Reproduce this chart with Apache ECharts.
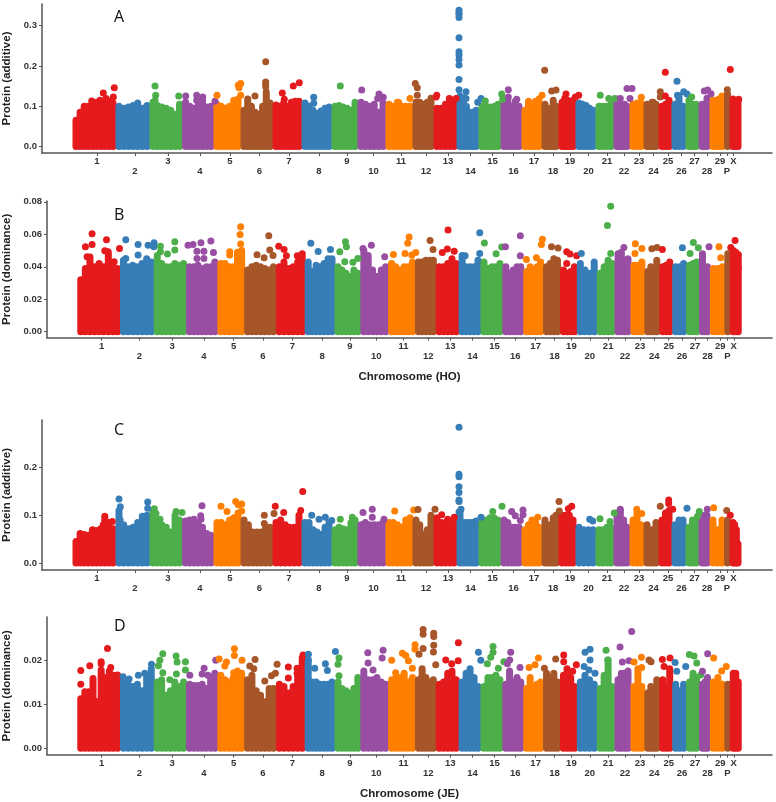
<!DOCTYPE html>
<html><head><meta charset="utf-8">
<style>html,body{margin:0;padding:0;background:#fff}#c{width:776px;height:802px}</style>
<script src="https://cdn.jsdelivr.net/npm/echarts@6/dist/echarts.min.js"></script>
</head><body><div id="c"></div>
<script>
const chromNames = ['1','2','3','4','5','6','7','8','9','10','11','12','13','14','15','16','17','18','19','20','21','22','23','24','25','26','27','28','29','P','X'];
const chromLengths = [43,34,32.5,31.5,27,32,29,30,26,28,27,21,23,22,22,21,20,17,17,20,18,16,14,15,13,14,13,11,15,5,11];
const tickPositions = [24,62,95,127,157,186.5,216,246,274,300.5,328,353,375,397.5,419.5,440.5,461,480,497,515.5,534,551,566,580.5,595,608.5,621.5,634,647,654,660.5];
const palette = ['#E41A1C','#377EB8','#4DAF4A','#984EA3','#FF7F00','#A65628'];

const ridgeA = [
[.065,.085,.10,.10,.105,.11,.1,.11,.112,.108],[.1,.095,.098,.102,.108,.095,.102],[.11,.102,.098,.095,.09,.08,.105],[.11,.1,.095,.105,.108,.098,.1],[.105,.1,.095,.1,.115,.118],[.09,.118,.1,.085,.08,.1,.135,.108],[.103,.1,.108,.1,.11,.112,.112],[.108,.1,.09,.082,.088,.095,.098],[.1,.102,.098,.095,.09,.11],[.11,.105,.1,.105,.085,.108],
[.105,.1,.11,.1,.1,.1],[.11,.11,.105,.11,.12],[.095,.095,.105,.118,.11],[.125,.12,.1,.085,.085,.09],[.1,.098,.098,.098,.1,.105],[.11,.118,.1,.112,.1],[.09,.112,.1,.112,.118],[.105,.095,.088,.115,.1],[.11,.12,.115,.1,.115],[.108,.105,.102,.095,.09],
[.1,.1,.1,.105],[.118,.105,.09,.105,.1],[.105,.108,.108],[.105,.105,.11,.105],[.1,.105,.115],[.105,.125,.1],[.115,.105,.105],[.105,.105,.12],[.115,.115,.118,.125],[.13],[.118,.115,.115]];
const outliersA = [
[1,30.3,.133],[1,41.3,.146],[1,40.3,.123],[1,33,.119],[1,27,.115],[1,18.7,.113],[3,82,.15],[3,82.7,.127],[3,105.7,.125],[3,82,.115],[4,112.7,.125],[4,123.7,.127],[4,129.7,.123],[4,123.7,.115],[4,129.5,.115],[4,142,.112],[5,144,.127],[5,167.7,.156],[5,165.3,.152],[5,166,.146],[5,167.7,.127],[6,182,.125],[6,192.7,.21],[6,192.7,.16],[6,192.7,.155],[6,192.7,.148],[7,209.3,.133],[7,220.3,.15],[7,226.3,.158],[7,211.3,.117],[8,240.7,.122],[8,240.7,.107],[9,267.3,.15],[10,288.7,.14],[10,306,.13],[10,310.3,.122],[10,304.7,.119],
[11,325.7,.109],[11,337,.119],[12,342.3,.156],[12,344.3,.146],[12,344.3,.127],[13,363,.123],[13,363.7,.127],[13,376.3,.119],[13,383,.119],[14,386,.338],[14,386,.332],[14,386,.328],[14,386,.32],[14,386,.27],[14,386,.235],[14,386,.227],[14,386,.216],[14,386,.202],[14,386,.166],[14,386,.141],[14,393,.136],[14,393,.119],[14,404.7,.11],[14,408,.119],[15,412.3,.113],[15,428.7,.13],[15,429.7,.117],[16,435.3,.141],[16,435.3,.123],[16,443.7,.117],[17,469,.127],[18,471.7,.189],[18,478.7,.138],[18,483,.14],[19,493,.13],[19,502.3,.123],[19,505.7,.127],[21,527.3,.127],[21,535.7,.119],[21,541.7,.119],[22,547.3,.119],[22,554,.144],[22,559,.144],[22,557,.119],[23,568.3,.122],[24,579,.11],[24,587.3,.136],[24,587.3,.123],[25,592.3,.184],[25,592.3,.125],[26,604,.162],[26,604.5,.127],[26,610.7,.136],[26,614,.13],[27,618.7,.123],[28,634.7,.14],[28,638,.131],[28,631.3,.138],[30,654.3,.141],[31,657.3,.191],[31,665.7,.117]];

const ridgeB = [
[.032,.039,.046,.04,.042,.04,.048,.041,.039],[.044,.04,.041,.04,.042,.045,.043],[.047,.042,.04,.04,.042,.041,.042],[.04,.04,.041,.039,.04,.04,.043],[.042,.042,.04,.04,.049,.05],[.038,.04,.041,.04,.039,.038,.04],[.04,.043,.039,.04,.043,.048],[.043,.037,.041,.04,.042,.045,.045],[.04,.038,.036,.034,.038,.036],[.05,.047,.038,.034,.038,.04],
[.042,.04,.038,.04,.04,.043],[.043,.043,.044,.044,.044],[.04,.04,.042,.045,.042],[.047,.04,.04,.04,.044],[.043,.039,.04,.04,.042],[.04,.036,.038,.04,.04],[.037,.04,.038,.04,.043],[.04,.042,.045,.044],[.038,.036,.037,.04],[.042,.038,.036,.043],
[.036,.04,.044,.042],[.048,.049,.044,.045],[.041,.041,.043],[.037,.04,.037,.044],[.04,.041,.043],[.04,.04,.042],[.041,.042,.043],[.048,.036,.04],[.039,.039,.04],[.048],[.05,.049,.047]];
const outliersB = [
[1,14.4,.0603],[1,14.4,.0537],[1,7.7,.0523],[1,28.9,.0566],[1,27.2,.0499],[1,30.5,.0492],[1,36.6,.0431],[1,42,.0513],[1,9.4,.0462],[2,48.3,.0566],[2,60.7,.0537],[2,70.8,.0533],[2,76.8,.0548],[2,76.5,.0523],[2,60.7,.0472],[2,48.3,.0451],[3,83.2,.0527],[3,83.2,.0492],[3,97.7,.0554],[3,97.7,.0503],[3,90.3,.0478],[4,111,.0533],[4,116,.0537],[4,124,.0548],[4,134,.0558],[4,120,.0496],[4,127,.0496],[4,136.6,.0488],[4,120,.0451],[4,127,.0451],[5,164,.0646],[5,163.4,.0599],[5,164,.054],[5,153,.0492],[5,153,.0472],[6,192.3,.0591],[6,180.5,.0474],[6,187.6,.0455],[6,193.3,.0503],[6,196.6,.047],[7,202.3,.0527],[7,207.7,.0507],[7,210,.0468],[7,221,.0468],[8,234.6,.0544],[8,242,.0494],[8,254.4,.0507],[9,269.5,.0554],[9,263.8,.0492],[9,268.8,.0431],[9,277,.0427],[9,282,.0451],[9,270.5,.0523],[10,295.6,.0533],[10,287.2,.0513],[10,309,.0462],
[11,333.6,.0583],[11,332.2,.0544],[11,329.5,.0482],[11,340.3,.0488],[11,317.8,.0476],[11,336.3,.0472],[12,354.7,.0562],[12,357.7,.0507],[13,372.8,.0626],[13,367,.0488],[13,372.1,.0509],[13,379,.0496],[14,404.7,.0609],[14,404.7,.0482],[14,390,.0468],[15,409.4,.0546],[15,421.2,.048],[15,426.8,.0521],[16,430.6,.0523],[16,445.6,.0591],[16,445.6,.0468],[17,467.8,.057],[17,466.8,.0537],[17,461.8,.0455],[17,451.7,.0445],[18,477,.0523],[18,483.6,.0515],[19,492.3,.0492],[19,495.6,.0478],[19,502.3,.0468],[19,492.3,.042],[20,507,.0482],[21,536.6,.0773],[21,533.3,.0654],[21,536.6,.0482],[22,549.9,.0519],[23,561.4,.0542],[23,568,.0513],[23,561,.0482],[24,578,.0511],[24,583.2,.0519],[25,588.6,.0507],[26,608.8,.0517],[27,619.8,.055],[27,624.8,.0517],[27,616.5,.0482],[28,635.6,.0523],[29,645.6,.0523],[29,647.4,.0455],[31,661.8,.0562],[31,657.5,.0519],[31,665,.0476],[31,665,.039]];

const ridgeC = [
[.045,.062,.06,.058,.07,.068,.072,.098,.085,.072],[.11,.08,.072,.075,.085,.098,.1],[.11,.09,.08,.075,.065,.1,.09],[.088,.09,.092,.085,.075,.062,.058],[.085,.085,.08,.09,.095,.105],[.09,.08,.065,.065,.065,.075,.075],[.085,.09,.08,.075,.075,.1],[.085,.085,.07,.065,.06,.075,.085],[.07,.075,.072,.07,.085,.09],[.08,.085,.08,.08,.08,.085],
[.085,.085,.08,.075,.09,.095],[.09,.08,.06,.07,.1],[.095,.085,.085,.08,.09],[.105,.085,.085,.085,.085,.088],[.085,.09,.095,.095,.09],[.09,.085,.075,.075,.075],[.07,.08,.09,.085,.075],[.09,.08,.07,.095,.1],[.1,.1,.1,.09],[.075,.07,.07,.07],
[.07,.07,.075,.075],[.105,.11,.09,.075],[.09,.105,.08],[.08,.07,.07,.085],[.09,.105,.11],[.08,.09,.09],[.075,.09,.09],[.09,.1,.1],[.09,.07,.09],[.09],[.085,.08,.07,.04]];
const outliersC = [
[1,30.3,.08],[1,39.3,.087],[2,46,.134],[2,47.3,.118],[2,47,.09],[2,74.7,.128],[2,74.7,.115],[3,81.3,.114],[3,83,.104],[3,87,.092],[3,103,.108],[3,109,.106],[4,129,.12],[4,127.7,.099],[4,128,.092],[5,148,.119],[5,154,.108],[5,162.7,.129],[5,168.7,.124],[5,168.7,.109],[5,165.3,.122],[6,191.3,.1],[6,191.3,.083],[7,202.3,.119],[6,201,.104],[7,210.7,.106],[7,229.7,.15],[7,227.7,.11],[8,238.7,.1],[8,246,.092],[8,252.3,.096],[8,258.7,.089],[9,267.3,.092],[9,279.3,.096],[10,290,.106],[10,299.3,.113],[10,299.3,.096],[10,311,.092],
[11,321.7,.109],[11,340.7,.111],[12,345,.112],[12,362,.113],[13,368.7,.101],[13,374.7,.092],[13,381.3,.096],[14,386,.285],[14,386,.186],[14,386,.181],[14,386,.16],[14,386,.148],[14,386,.132],[14,386,.129],[14,388,.113],[14,386,.107],[14,408,.096],[15,419.7,.108],[15,429,.119],[16,438.7,.108],[16,442.3,.099],[16,450,.111],[16,450,.101],[16,447.3,.089],[17,464.7,.096],[18,486,.129],[18,486.3,.109],[19,498.7,.119],[19,495.3,.114],[20,516.7,.092],[20,519.7,.088],[21,527,.093],[21,537,.087],[21,541.3,.105],[22,547.3,.113],[23,563.7,.113],[23,568.7,.104],[24,587.3,.119],[25,595.7,.132],[25,595.7,.125],[25,599.7,.113],[26,614,.115],[27,626.3,.108],[27,624.5,.098],[28,634.3,.113],[29,640.7,.116],[30,653.7,.11],[31,657.3,.1]];

const ridgeD = [
[.0112,.0128,.0128,.0158,.0106,.0177,.016,.0175,.0165,.0166],[.015,.0145,.014,.0145,.013,.0165,.018],[.015,.0155,.012,.013,.015,.014,.015],[.0145,.0142,.0142,.0145,.0135,.016,.017],[.0165,.0155,.015,.016,.0175,.017],[.0155,.0165,.013,.012,.0105,.0135,.0135],[.0145,.014,.0125,.014,.017,.0205],[.0195,.015,.015,.0145,.0145,.0145,.015],[.015,.0135,.013,.0125,.0135,.016],[.0175,.0155,.0155,.016,.015,.0145],
[.0155,.016,.016,.017,.015,.016],[.0155,.018,.016,.015,.0155],[.0145,.015,.017,.0175,.0155],[.015,.017,.018,.016,.014],[.014,.016,.016,.0165,.0155],[.0145,.0175,.015,.016,.015],[.0135,.016,.014,.0145,.015],[.017,.016,.017,.015],[.0165,.018,.016,.014],[.015,.0165,.0155,.0145],
[.0135,.0165,.02,.014],[.0155,.017,.017,.0175],[.014,.018,.014],[.0125,.014,.012,.0155],[.0155,.014,.018],[.0145,.013,.0145],[.015,.017,.016],[.0145,.015,.016],[.015,.016,.0145],[.0145],[.017,.017,.015]];
const outliersD = [
[1,29.9,.0226],[1,23.5,.0196],[1,23.5,.0191],[1,12.1,.0187],[1,3,.0176],[1,3,.0145],[1,33.2,.0183],[2,45.6,.0162],[2,51.7,.0157],[2,61,.0165],[2,67.4,.017],[2,74.2,.019],[3,85.6,.0214],[3,82.6,.0199],[3,81.2,.0187],[3,99,.0209],[3,100,.0195],[3,108.4,.0196],[3,85.6,.0171],[3,99.3,.0168],[3,108.4,.0177],[3,92.6,.0155],[4,127.2,.0181],[4,138.9,.0199],[4,112.8,.0165],[4,125.2,.0168],[4,131,.0165],[5,142.3,.0202],[5,157.7,.0225],[5,157.7,.021],[5,149.7,.0195],[5,165.4,.0199],[5,148,.0186],[5,157,.0171],[6,178.5,.0201],[6,173.2,.0186],[6,177.2,.018],[6,200.7,.019],[6,188.3,.0152],[6,195,.0164],[6,199,.017],[7,212,.0184],[7,212,.0159],[7,220.8,.0181],[7,220.8,.017],[7,226.8,.0211],[8,232.2,.0213],[8,232.2,.02],[8,232.2,.0181],[8,238.6,.0181],[8,249.3,.0191],[8,251.3,.0176],[8,259.4,.0219],[9,263,.0204],[9,262,.019],[9,263,.0164],[10,292,.0216],[10,307.4,.0222],[10,306.4,.0204],[10,292.3,.0193],[10,297.3,.0177],
[11,339.6,.0234],[11,339.6,.0224],[11,326.9,.0215],[11,330.2,.021],[11,316.1,.0199],[11,332.9,.0198],[11,320.1,.0171],[11,336.9,.0181],[12,347.7,.0269],[12,347.7,.0258],[12,358.4,.026],[12,358.4,.0253],[12,358.4,.0233],[12,358.1,.0218],[12,347.7,.0226],[12,343.6,.0213],[12,360.4,.0189],[13,383.2,.0239],[13,370.5,.02],[13,383,.0198],[13,376.5,.0191],[14,403.4,.0217],[14,405.8,.0199],[15,418.1,.023],[15,418.1,.0217],[15,415.8,.0206],[15,412.4,.0191],[15,429,.0196],[15,423.5,.0181],[16,435.9,.0217],[16,434.9,.02],[16,432.6,.0191],[16,445.3,.0183],[17,463.8,.0204],[17,454.4,.0183],[17,460.4,.0189],[18,481.2,.0202],[18,469.8,.0181],[19,489.3,.0211],[19,489.3,.0196],[19,502,.0189],[19,498.3,.0174],[20,515.8,.0224],[20,510.8,.0217],[20,515.8,.02],[20,509.8,.0185],[20,514.7,.0177],[20,520.8,.017],[21,531.9,.0222],[21,533.6,.02],[22,546,.0229],[22,557.7,.0264],[22,548.3,.0195],[22,555,.0198],[23,560.1,.0195],[23,567.5,.0206],[23,567.8,.0183],[24,575.2,.02],[24,577.2,.0196],[25,588.6,.0201],[25,596.3,.0204],[25,590.3,.0185],[26,601.4,.0194],[26,603.1,.0174],[26,612.1,.0185],[27,615.8,.0212],[27,620.5,.0209],[27,623.2,.0193],[27,627.2,.0166],[28,634.2,.0214],[28,629,.0174],[29,640.3,.0204],[29,653,.0185],[29,648.3,.0175]];

const yTicksA = [0,0.1,0.2,0.3], yTicksB = [0,0.02,0.04,0.06,0.08], yTicksC = [0,0.1,0.2], yTicksD = [0,0.01,0.02];

const panels = [
 {letter:'A',lx:114,ly:9, left:42,top:4,height:149,ymin:-0.0161,ymax:0.3535,ticks:yTicksA,dec:1,yname:'Protein (additive)',ridge:ridgeA,out:outliersA,xname:''},
 {letter:'B',lx:114,ly:207,left:47,top:201,height:136.7,ymin:-0.0037,ymax:0.0805,ticks:yTicksB,dec:2,yname:'Protein (dominance)',ridge:ridgeB,out:outliersB,xname:'Chromosome (HO)'},
 {letter:'C',lx:114,ly:422,left:42,top:420,height:150,ymin:-0.0147,ymax:0.30,ticks:yTicksC,dec:1,yname:'Protein (additive)',ridge:ridgeC,out:outliersC,xname:''},
 {letter:'D',lx:114,ly:618,left:47,top:617,height:137.7,ymin:-0.00145,ymax:0.0297,ticks:yTicksD,dec:2,yname:'Protein (dominance)',ridge:ridgeD,out:outliersD,xname:'Chromosome (JE)'}
];

const chromStarts = [];
chromLengths.reduce((s,l,i)=>{chromStarts[i]=s;return s+l;},0);
const inset = 3;
function ridgeData(ridge){
  const out=[];
  ridge.forEach((vals,c)=>{
    const s=chromStarts[c], l=chromLengths[c], n=vals.length;
    vals.forEach((v,i)=>{
      const x = n===1 ? s+l/2 : s+inset+i*(l-2*inset)/(n-1);
      out.push([x,v,c]);
    });
  });
  return out;
}
const labelByPos = new Map(tickPositions.map((p,i)=>[p,(i%2===1?'\n':'')+chromNames[i]]));
const labelFont = {fontFamily:'"Liberation Sans",Arial,sans-serif',fontWeight:'bold',color:'#333'};
const option = {animation:false,backgroundColor:'#fff',title:[],grid:[],xAxis:[],yAxis:[],series:[]};
panels.forEach((p,k)=>{
  option.title.push({text:p.letter,left:p.lx,top:p.ly,padding:0,textStyle:{fontFamily:'"Open Sans",sans-serif',fontSize:16,fontWeight:'normal',color:'#111'}});
  option.grid.push({left:p.left,top:p.top,height:p.height,right:4,outerBoundsMode:'none',containLabel:false});
  option.xAxis.push({gridIndex:k,type:'value',min:-31,max:699,
    name:p.xname,nameLocation:'middle',nameGap:33,
    nameTextStyle:{...labelFont,fontSize:11.5,color:'#222'},
    axisLine:{onZero:false,lineStyle:{color:'#555',width:1.5}},
    axisTick:{customValues:tickPositions,length:3,lineStyle:{color:'#555'}},
    axisLabel:{customValues:tickPositions,margin:4,...labelFont,fontSize:9.5,lineHeight:9.5,formatter:v=>labelByPos.get(v)||''},
    splitLine:{show:false}});
  option.yAxis.push({gridIndex:k,type:'value',min:p.ymin,max:p.ymax,
    name:p.yname,nameLocation:'middle',nameGap:p.left-16,nameRotate:90,
    nameTextStyle:{...labelFont,fontSize:11.5,color:'#222'},
    axisLine:{onZero:false,lineStyle:{color:'#555',width:1.5}},
    axisTick:{customValues:p.ticks,length:3,lineStyle:{color:'#555'}},
    axisLabel:{customValues:p.ticks,margin:5,...labelFont,fontSize:9.5,formatter:v=>v.toFixed(p.dec)},
    splitLine:{show:false}});
  option.series.push({type:'scatter',xAxisIndex:k,yAxisIndex:k,symbolSize:7,silent:true,
    data:p.out.map(o=>[o[1],o[2],o[0]-1]),
    itemStyle:{opacity:1,color:q=>palette[q.data[2]%6]}});
  option.series.push({type:'custom',xAxisIndex:k,yAxisIndex:k,silent:true,clip:false,
    data:ridgeData(p.ridge),encode:{x:0,y:1},
    renderItem:(params,api)=>{
      const top=api.coord([api.value(0),api.value(1)]);
      const base=api.coord([api.value(0),0]);
      return {type:'rect',shape:{x:top[0]-3.5,y:top[1]-3.5,width:7,height:base[1]-top[1]+7,r:3.5},
        style:{fill:palette[api.value(2)%6]}};
    }});
});
echarts.init(document.getElementById('c'),null,{renderer:'canvas'}).setOption(option);
</script>
</body></html>
